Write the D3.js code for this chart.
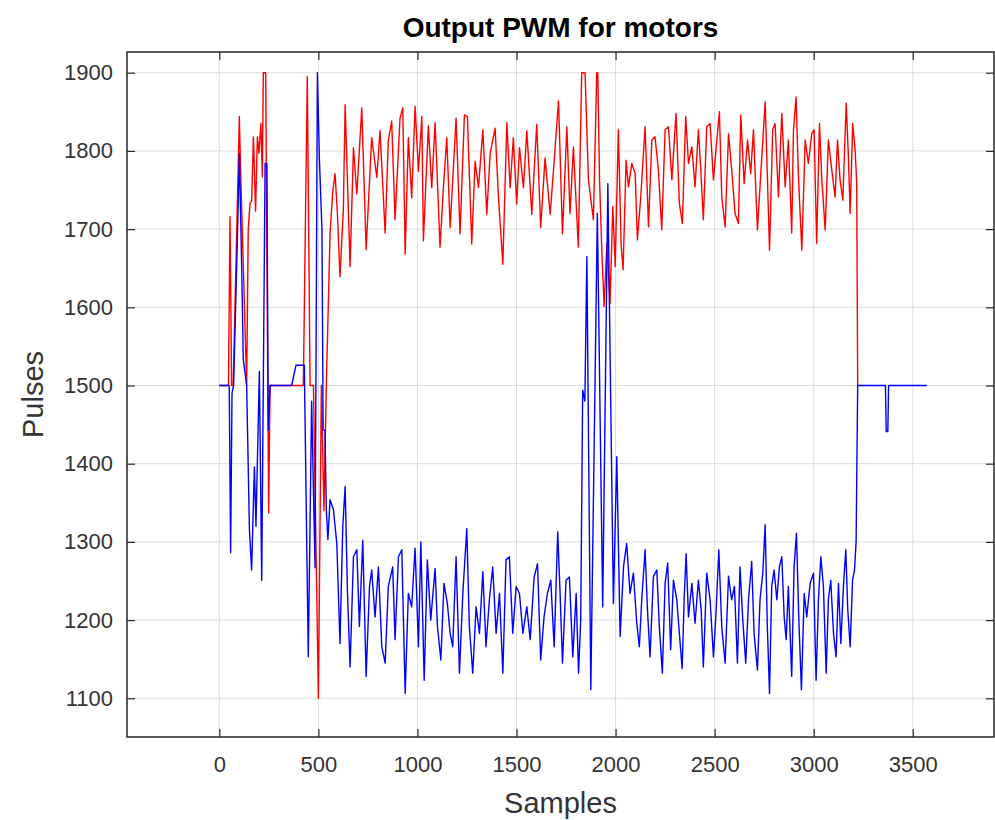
<!DOCTYPE html>
<html>
<head>
<meta charset="utf-8">
<script src="https://cdn.jsdelivr.net/npm/d3@7"></script>
<style>
  body { margin: 0; background: #fff; }
  .canvas svg { display: block; font-family: "Liberation Sans", Arial, sans-serif; }
</style>
</head>
<body>
<div class="canvas"></div>
<script>
// tick values
var xTicks = [0, 500, 1000, 1500, 2000, 2500, 3000, 3500];
var yTicks = [1100, 1200, 1300, 1400, 1500, 1600, 1700, 1800, 1900];

// red motor output
var redSamples = [0, 46, 54, 62, 70, 101, 106, 138, 146, 155, 163, 172, 183, 192, 200, 210, 217, 222, 234, 249, 256,
  424, 444, 458, 475, 500, 515, 528, 540, 559, 572, 584, 596, 609, 626, 635, 660, 677, 694, 719, 741, 769, 795, 811,
  837, 853, 870, 887, 912, 926, 938, 954, 971, 988, 1005, 1022, 1030, 1055, 1072, 1089, 1114, 1131, 1148, 1165, 1195,
  1215, 1237, 1252, 1274, 1291, 1308, 1330, 1350, 1367, 1392, 1409, 1431, 1451, 1468, 1484, 1501, 1515, 1535, 1552,
  1577, 1602, 1622, 1644, 1670, 1690, 1712, 1732, 1754, 1770, 1787, 1812, 1829, 1846, 1863, 1888, 1905, 1910, 1919,
  1930, 1942, 1956, 1972, 1986, 1998, 2014, 2028, 2038, 2053, 2065, 2082, 2099, 2110, 2127, 2149, 2166, 2183, 2199,
  2216, 2233, 2250, 2267, 2284, 2305, 2322, 2337, 2354, 2368, 2385, 2401, 2418, 2430, 2443, 2460, 2477, 2494, 2511,
  2524, 2536, 2553, 2570, 2586, 2603, 2620, 2632, 2649, 2666, 2682, 2696, 2716, 2733, 2755, 2777, 2793, 2805, 2822,
  2839, 2856, 2872, 2889, 2898, 2911, 2923, 2940, 2957, 2973, 2990, 3002, 3015, 3029, 3041, 3058, 3074, 3091, 3108,
  3120, 3133, 3147, 3164, 3175, 3184, 3197, 3209, 3217, 3222];
var redPulses = [1500, 1500, 1716, 1500, 1500, 1844, 1790, 1500, 1700, 1733, 1736, 1818, 1723, 1818, 1797, 1835, 1767, 1900, 1900, 1337, 1500,
  1500, 1895, 1500, 1500, 1100, 1500, 1340, 1500, 1695, 1746, 1771, 1720, 1639, 1725, 1859, 1652, 1804, 1745, 1855, 1674, 1817, 1766, 1826,
  1695, 1813, 1838, 1712, 1842, 1855, 1668, 1817, 1740, 1857, 1774, 1844, 1685, 1832, 1753, 1836, 1677, 1753, 1817, 1702, 1842,
  1694, 1846, 1844, 1681, 1787, 1753, 1827, 1719, 1797, 1829, 1740, 1655, 1836, 1753, 1817, 1732, 1804, 1753, 1826,
  1719, 1834, 1702, 1791, 1719, 1787, 1864, 1694, 1831, 1720, 1805, 1677, 1900, 1900, 1763, 1712, 1900, 1900, 1763,
  1677, 1601, 1682, 1605, 1729, 1652, 1827, 1680, 1648, 1788, 1754, 1784, 1771, 1686, 1741, 1831, 1703, 1814, 1818,
  1776, 1699, 1827, 1831, 1763, 1848, 1733, 1707, 1844, 1784, 1805, 1754, 1827, 1776, 1712, 1831, 1835, 1763, 1814,
  1850, 1741, 1703, 1822, 1776, 1720, 1707, 1846, 1758, 1814, 1771, 1827, 1699, 1771, 1863, 1673, 1827, 1835, 1741,
  1848, 1754, 1814, 1695, 1827, 1869, 1767, 1673, 1814, 1784, 1822, 1827, 1682, 1835, 1763, 1699, 1814, 1776, 1741,
  1814, 1763, 1737, 1861, 1793, 1720, 1835, 1801, 1760, 1500];

// blue motor output
var blueSamples = [0, 50, 57, 64, 72, 91, 101, 113, 121, 138, 152, 163, 177, 185, 202, 214, 231, 240, 247, 256,
  365, 387, 429, 449, 466, 483, 495, 505, 518, 524, 533, 540, 548, 559, 576, 593, 609, 623, 635, 647, 660, 677, 694,
  707, 724, 741, 758, 769, 786, 803, 820, 837, 853, 875, 887, 904, 921, 938, 954, 971, 988, 1005, 1017, 1034, 1050,
  1067, 1089, 1101, 1118, 1134, 1151, 1165, 1178, 1195, 1212, 1229, 1249, 1262, 1279, 1296, 1313, 1330, 1346, 1363,
  1380, 1397, 1414, 1431, 1447, 1464, 1481, 1498, 1515, 1532, 1552, 1569, 1589, 1606, 1622, 1639, 1656, 1673, 1690,
  1708, 1720, 1732, 1750, 1767, 1784, 1801, 1813, 1824, 1834, 1845, 1855, 1875, 1908, 1935, 1961, 1989, 2006, 2023,
  2040, 2056, 2073, 2090, 2107, 2120, 2132, 2149, 2161, 2174, 2191, 2208, 2221, 2236, 2250, 2263, 2278, 2292, 2309,
  2322, 2336, 2346, 2356, 2368, 2385, 2401, 2418, 2432, 2443, 2460, 2477, 2494, 2507, 2521, 2536, 2553, 2570, 2586,
  2600, 2615, 2628, 2642, 2657, 2671, 2687, 2699, 2716, 2729, 2743, 2755, 2766, 2777, 2788, 2800, 2814, 2827, 2839,
  2851, 2861, 2872, 2889, 2901, 2913, 2925, 2938, 2952, 2965, 2982, 2999, 3012, 3024, 3036, 3049, 3063, 3074, 3086,
  3100, 3113, 3125, 3137, 3150, 3162, 3172, 3184, 3196, 3206, 3214, 3222, 3362, 3366, 3374, 3378, 3571];
var bluePulses = [1500, 1500, 1286, 1490, 1500, 1686, 1797, 1650, 1533, 1500, 1315, 1264, 1396, 1320, 1518, 1251, 1784, 1784, 1443, 1500,
  1500, 1526, 1526, 1153, 1480, 1267, 1900, 1790, 1700, 1443, 1443, 1341, 1303, 1354, 1341, 1298, 1170, 1319, 1371, 1234, 1140, 1281, 1290,
  1192, 1302, 1128, 1243, 1264, 1204, 1268, 1166, 1145, 1243, 1268, 1175, 1281, 1290, 1106, 1234, 1217, 1292, 1166, 1300, 1123, 1277,
  1200, 1266, 1192, 1149, 1247, 1221, 1183, 1166, 1281, 1132, 1234, 1317, 1192, 1132, 1217, 1183, 1262, 1166, 1226,
  1268, 1183, 1234, 1132, 1277, 1281, 1183, 1243, 1234, 1183, 1217, 1175, 1255, 1272, 1149, 1204, 1234, 1251, 1166,
  1313, 1234, 1145, 1251, 1255, 1153, 1234, 1132, 1200, 1494, 1480, 1665, 1111, 1720, 1217, 1758, 1221, 1409, 1179,
  1268, 1298, 1234, 1260, 1196, 1166, 1226, 1290, 1213, 1153, 1256, 1264, 1191, 1132, 1247, 1273, 1162, 1251, 1226,
  1183, 1138, 1226, 1285, 1204, 1247, 1196, 1251, 1213, 1140, 1260, 1226, 1153, 1209, 1290, 1191, 1145, 1256, 1226,
  1243, 1145, 1268, 1200, 1145, 1226, 1275, 1183, 1136, 1226, 1260, 1322, 1191, 1106, 1243, 1264, 1226, 1268, 1281,
  1204, 1175, 1243, 1128, 1268, 1311, 1200, 1111, 1234, 1204, 1247, 1260, 1123, 1226, 1281, 1243, 1132, 1226, 1251,
  1183, 1153, 1247, 1170, 1243, 1290, 1213, 1166, 1251, 1264, 1300, 1500, 1500, 1441, 1441, 1500, 1500];

var width = 995;
var height = 820;
var plot = { left: 127, right: 994, top: 52, bottom: 737 };
var axisColour = '#262626';

var svg = d3.select('.canvas')
  .append('svg')
  .attr('width', width)
  .attr('height', height);

var xscale = d3.scaleLinear()
  .domain([-466, 3910])
  .range([plot.left, plot.right]);

var yscale = d3.scaleLinear()
  .domain([1050.5, 1926.5])
  .range([plot.bottom, plot.top]);

// grid
svg.append('g')
  .selectAll('line')
  .data(xTicks)
  .enter()
  .append('line')
  .attr('x1', function(d) { return xscale(d); })
  .attr('x2', function(d) { return xscale(d); })
  .attr('y1', plot.top)
  .attr('y2', plot.bottom)
  .attr('stroke', '#dedede')
  .attr('stroke-width', 1);

svg.append('g')
  .selectAll('line')
  .data(yTicks)
  .enter()
  .append('line')
  .attr('x1', plot.left)
  .attr('x2', plot.right)
  .attr('y1', function(d) { return yscale(d); })
  .attr('y2', function(d) { return yscale(d); })
  .attr('stroke', '#dedede')
  .attr('stroke-width', 1);

// lines
function makeSeries(xs, ys) {
  return xs.map(function(s, i) { return { s: s, v: ys[i] }; });
}

var line = d3.line()
  .x(function(d) { return xscale(d.s); })
  .y(function(d) { return yscale(d.v); });

svg.append('path')
  .datum(makeSeries(redSamples, redPulses))
  .attr('d', line)
  .attr('fill', 'none')
  .attr('stroke', '#ff0000')
  .attr('stroke-width', 1.4)
  .attr('stroke-linejoin', 'round');

svg.append('path')
  .datum(makeSeries(blueSamples, bluePulses))
  .attr('d', line)
  .attr('fill', 'none')
  .attr('stroke', '#0000ff')
  .attr('stroke-width', 1.4)
  .attr('stroke-linejoin', 'round');

// axes, ticks inward on all four sides
var fmt = d3.format('d');
var xaxis = d3.axisBottom(xscale).tickValues(xTicks).tickSizeInner(-8).tickSizeOuter(0).tickPadding(19).tickFormat(fmt);
var xaxisTop = d3.axisTop(xscale).tickValues(xTicks).tickSizeInner(-8).tickSizeOuter(0).tickFormat('');
var yaxis = d3.axisLeft(yscale).tickValues(yTicks).tickSizeInner(-8).tickSizeOuter(0).tickPadding(14).tickFormat(fmt);
var yaxisRight = d3.axisRight(yscale).tickValues(yTicks).tickSizeInner(-8).tickSizeOuter(0).tickFormat('');

svg.append('g').attr('class', 'axis').attr('transform', 'translate(0,' + plot.bottom + ')').call(xaxis);
svg.append('g').attr('class', 'axis').attr('transform', 'translate(0,' + plot.top + ')').call(xaxisTop);
svg.append('g').attr('class', 'axis').attr('transform', 'translate(' + plot.left + ',0)').call(yaxis);
svg.append('g').attr('class', 'axis').attr('transform', 'translate(' + plot.right + ',0)').call(yaxisRight);

svg.selectAll('.axis .domain').remove();
svg.selectAll('.axis line').attr('stroke', axisColour).attr('stroke-width', 1.2);
svg.selectAll('.axis text')
  .attr('fill', '#333')
  .style('font-size', '22px')
  .style('font-family', '"Liberation Sans", Arial, sans-serif');

// box
svg.append('rect')
  .attr('x', plot.left)
  .attr('y', plot.top)
  .attr('width', plot.right - plot.left)
  .attr('height', plot.bottom - plot.top)
  .attr('fill', 'none')
  .attr('stroke', axisColour)
  .attr('stroke-width', 1.5);

// labels
svg.append('text')
  .attr('x', (plot.left + plot.right) / 2)
  .attr('y', 37)
  .attr('text-anchor', 'middle')
  .attr('fill', '#000')
  .style('font-size', '28px')
  .style('font-weight', 'bold')
  .text('Output PWM for motors');

svg.append('text')
  .attr('x', (plot.left + plot.right) / 2)
  .attr('y', 813)
  .attr('text-anchor', 'middle')
  .attr('fill', '#333')
  .style('font-size', '29px')
  .text('Samples');

svg.append('text')
  .attr('transform', 'translate(43,' + (plot.top + plot.bottom) / 2 + ') rotate(-90)')
  .attr('text-anchor', 'middle')
  .attr('fill', '#333')
  .style('font-size', '29px')
  .text('Pulses');
</script>
</body>
</html>
